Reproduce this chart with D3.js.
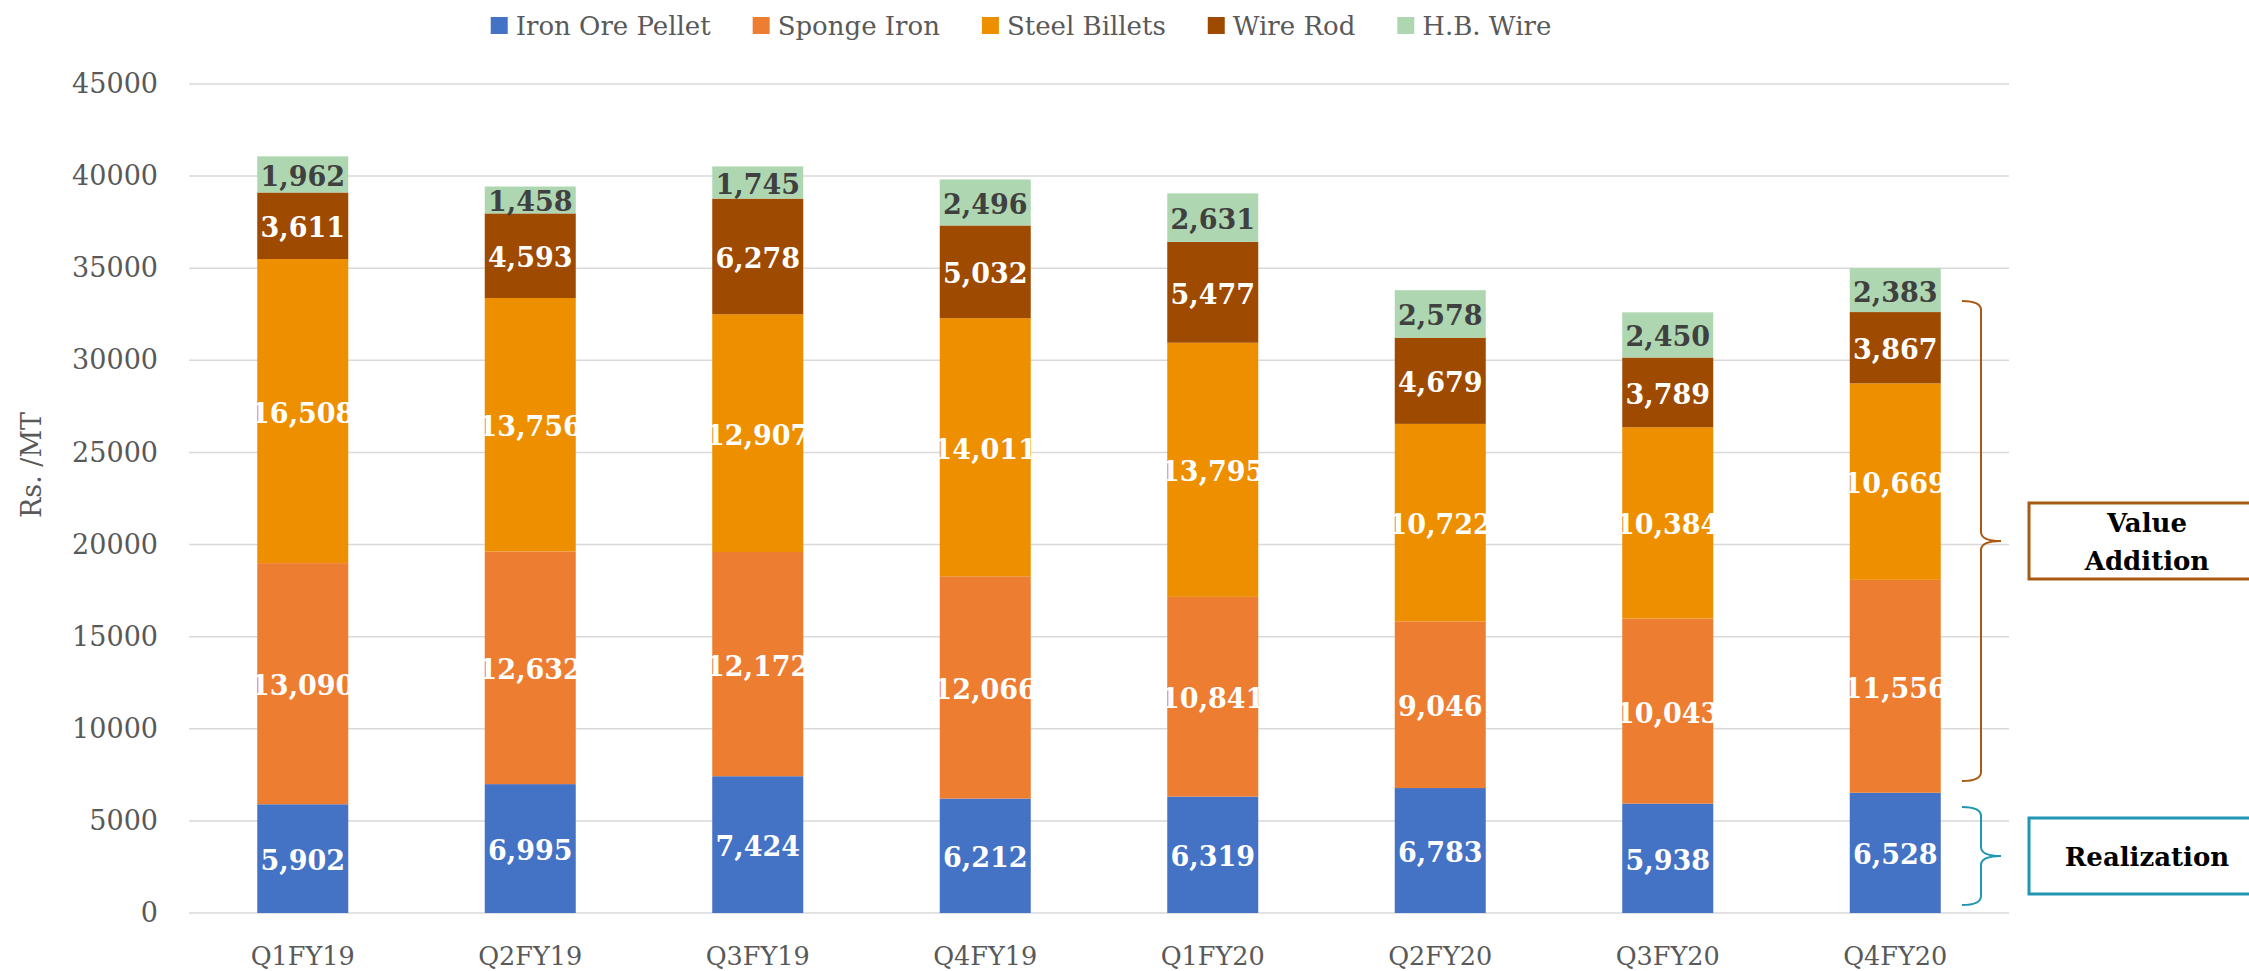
<!DOCTYPE html>
<html lang="en">

<head>
    <meta charset="UTF-8">
    <title>Realization and Value Addition</title>
    <style>
        body {
            margin: 0;
            background: #fff;
        }

        svg {
            display: block;
            font-family: "DejaVu Serif", serif;
        }
    </style>
</head>

<script src="https://cdn.jsdelivr.net/npm/d3@7"></script>

<body>
    <div id="graphic"></div>
    <script>
        // data
        var quarters = ['Q1FY19', 'Q2FY19', 'Q3FY19', 'Q4FY19', 'Q1FY20', 'Q2FY20', 'Q3FY20', 'Q4FY20'];
        var seriesNames = ['Iron Ore Pellet', 'Sponge Iron', 'Steel Billets', 'Wire Rod', 'H.B. Wire'];
        var ironOrePellet = [5902, 6995, 7424, 6212, 6319, 6783, 5938, 6528];
        var spongeIron = [13090, 12632, 12172, 12066, 10841, 9046, 10043, 11556];
        var steelBillets = [16508, 13756, 12907, 14011, 13795, 10722, 10384, 10669];
        var wireRod = [3611, 4593, 6278, 5032, 5477, 4679, 3789, 3867];
        var hbWire = [1962, 1458, 1745, 2496, 2631, 2578, 2450, 2383];
        var yTicks = [0, 5000, 10000, 15000, 20000, 25000, 30000, 35000, 40000, 45000];

        var colors = ['#4472C4', '#ED7D31', '#EE8F00', '#9E4A00', '#AED7B1'];
        var labelColors = ['#fff', '#fff', '#fff', '#fff', '#404040'];

        var width = 2249;
        var height = 971;

        var svg = d3.select('#graphic')
            .append('svg')
            .attr('width', width)
            .attr('height', height);

        var x = d3.scaleBand().domain(quarters).range([189, 2009]).paddingInner(0.6).paddingOuter(0.3);
        var y = d3.scaleLinear().domain([0, 45000]).range([913, 84]);

        // gridlines
        svg.append('g')
            .selectAll('line')
            .data(yTicks)
            .join('line')
            .attr('x1', 189)
            .attr('x2', 2009)
            .attr('y1', function (d) { return y(d) })
            .attr('y2', function (d) { return y(d) })
            .attr('stroke', '#d9d9d9')
            .attr('stroke-width', 1.5);

        // y axis labels
        var yAxis = svg.append('g')
            .attr('transform', 'translate(170,0)')
            .call(d3.axisLeft(y).tickValues(yTicks).tickFormat(d3.format('d')).tickSize(0).tickPadding(12));
        yAxis.select('.domain').remove();
        yAxis.selectAll('text')
            .attr('font-family', 'DejaVu Serif')
            .attr('font-size', 27)
            .attr('fill', '#595959');

        // x axis labels
        var xAxis = svg.append('g')
            .attr('transform', 'translate(0,913)')
            .call(d3.axisBottom(x).tickSize(0).tickPadding(0));
        xAxis.select('.domain').remove();
        xAxis.selectAll('text')
            .attr('font-family', 'DejaVu Serif')
            .attr('font-size', 25.5)
            .attr('fill', '#595959')
            .attr('dy', null)
            .attr('y', 52);

        // axis title
        svg.append('text')
            .attr('transform', 'translate(41,465) rotate(-90)')
            .attr('text-anchor', 'middle')
            .attr('font-size', 27)
            .attr('fill', '#595959')
            .text('Rs. /MT');

        // stacked bars
        var rows = quarters.map(function (q, i) {
            return {
                quarter: q,
                'Iron Ore Pellet': ironOrePellet[i],
                'Sponge Iron': spongeIron[i],
                'Steel Billets': steelBillets[i],
                'Wire Rod': wireRod[i],
                'H.B. Wire': hbWire[i]
            };
        });
        var stacked = d3.stack().keys(seriesNames)(rows);
        var fmt = d3.format(',');

        var layers = svg.selectAll('.layer')
            .data(stacked)
            .join('g')
            .attr('class', 'layer')
            .attr('fill', function (d, i) { return colors[i] });

        layers.selectAll('rect')
            .data(function (d) { return d })
            .join('rect')
            .attr('x', function (d) { return x(d.data.quarter) })
            .attr('width', x.bandwidth())
            .attr('y', function (d) { return y(d[1]) })
            .attr('height', function (d) { return y(d[0]) - y(d[1]) });

        layers.selectAll('text')
            .data(function (d, i) { return d.map(function (s) { return { s: s, i: i } }) })
            .join('text')
            .attr('x', function (d) { return x(d.s.data.quarter) + x.bandwidth() / 2 })
            .attr('y', function (d) { return (y(d.s[0]) + y(d.s[1])) / 2 + 2 })
            .attr('text-anchor', 'middle')
            .attr('dominant-baseline', 'central')
            .attr('font-weight', 'bold')
            .attr('font-size', 27)
            .attr('fill', function (d) { return labelColors[d.i] })
            .text(function (d) { return fmt(d.s[1] - d.s[0]) });

        // legend
        var legend = svg.append('g');
        var items = legend.selectAll('g')
            .data(seriesNames)
            .join('g');
        items.append('rect')
            .attr('width', 17)
            .attr('height', 17)
            .attr('y', 17)
            .attr('fill', function (d, i) { return colors[i] });
        items.append('text')
            .attr('x', 25)
            .attr('y', 35)
            .attr('font-size', 26)
            .attr('fill', '#595959')
            .text(function (d) { return d });
        var lx = 0;
        items.each(function () {
            var g = d3.select(this);
            g.attr('transform', 'translate(' + lx + ',0)');
            lx += 25 + g.select('text').node().getComputedTextLength() + 42;
        });
        var legendWidth = lx - 42;
        legend.attr('transform', 'translate(' + (1021 - legendWidth / 2) + ',0)');

        // annotations: braces + boxes
        function brace(x0, xm, xt, y0, y1, r) {
            var ym = (y0 + y1) / 2;
            var p = d3.path();
            p.moveTo(x0, y0);
            p.quadraticCurveTo(xm, y0, xm, y0 + r);
            p.lineTo(xm, ym - r);
            p.quadraticCurveTo(xm, ym, xt, ym);
            p.quadraticCurveTo(xm, ym, xm, ym + r);
            p.lineTo(xm, y1 - r);
            p.quadraticCurveTo(xm, y1, x0, y1);
            return p.toString();
        }

        var notes = [
            { lines: ['Value', 'Addition'], color: '#A85A12', top: 301, bottom: 781, boxTop: 503, boxBottom: 579 },
            { lines: ['Realization'], color: '#2196B3', top: 807, bottom: 905, boxTop: 818, boxBottom: 894 }
        ];

        notes.forEach(function (n) {
            svg.append('path')
                .attr('d', brace(1962, 1981, 2001, n.top, n.bottom, 9))
                .attr('fill', 'none')
                .attr('stroke', n.color)
                .attr('stroke-width', 2);
            svg.append('rect')
                .attr('x', 2029)
                .attr('y', n.boxTop)
                .attr('width', 230)
                .attr('height', n.boxBottom - n.boxTop)
                .attr('fill', '#fff')
                .attr('stroke', n.color)
                .attr('stroke-width', 3);
            var mid = (n.boxTop + n.boxBottom) / 2;
            var t = svg.append('text')
                .attr('text-anchor', 'middle')
                .attr('font-weight', 'bold')
                .attr('font-size', 26)
                .attr('fill', '#000');
            n.lines.forEach(function (l, i) {
                t.append('tspan')
                    .attr('x', 2147)
                    .attr('y', mid + 10 + (i - (n.lines.length - 1) / 2) * 38)
                    .text(l);
            });
        });
    </script>
</body>

</html>
